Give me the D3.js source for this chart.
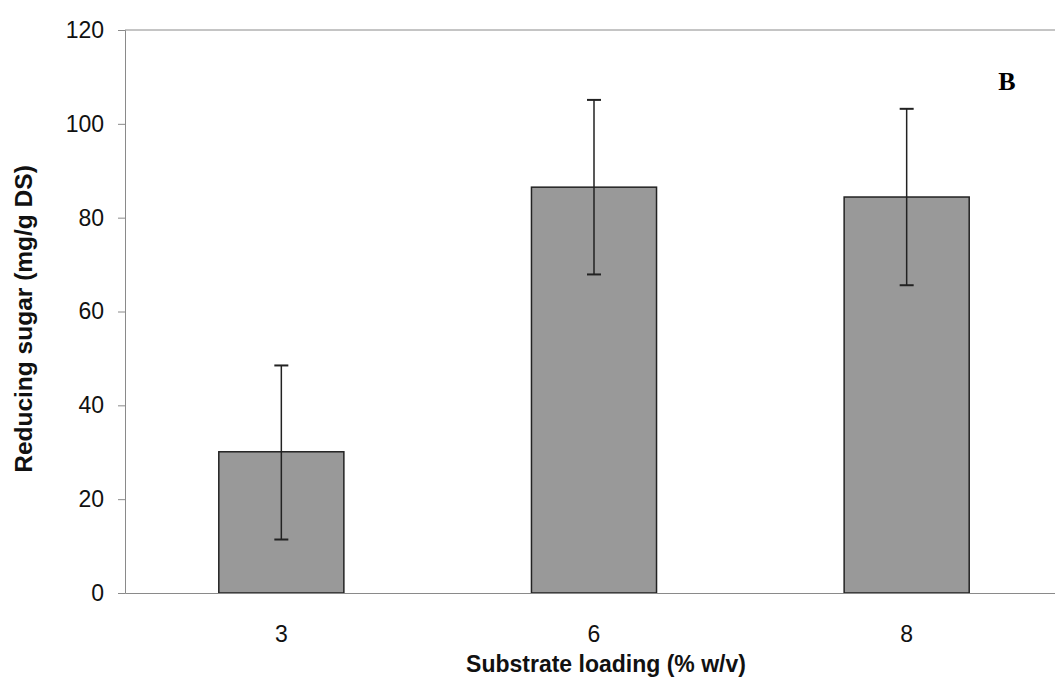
<!DOCTYPE html>
<html>
<head>
<meta charset="utf-8">
<script src="https://cdn.jsdelivr.net/npm/d3@7"></script>
<style>
  body { margin: 0; background: #fff; }
  svg { display: block; }
  .tick text { font-family: "Liberation Sans", Arial, sans-serif; font-size: 23px; fill: #111; }
  .axis-title { font-family: "Liberation Sans", Arial, sans-serif; font-weight: bold; fill: #111; }
</style>
</head>
<body>
<div id="chart"></div>
<script>
// data
var loadings = ["3", "6", "8"];
var sugar = [30.1, 86.5, 84.4];
var errLow = [11.4, 67.9, 65.6];
var errHigh = [48.5, 105.1, 103.2];
var yTicks = [0, 20, 40, 60, 80, 100, 120];

var margin = {top: 30, right: -8, bottom: 87, left: 125},
    width = 1055 - margin.left - margin.right,
    height = 680 - margin.top - margin.bottom;

var x = d3.scaleBand()
          .domain(loadings)
          .range([0, width])
          .paddingInner(0.6)
          .paddingOuter(0.3);
var y = d3.scaleLinear()
          .domain([0, 120])
          .range([height, 0]);

var svg = d3.select("#chart").append("svg")
    .attr("width", 1055)
    .attr("height", 680)
  .append("g")
    .attr("transform", "translate(" + margin.left + "," + margin.top + ")");

var data = loadings.map(function(d, i) {
  return {label: d, value: sugar[i], lo: errLow[i], hi: errHigh[i]};
});

// top frame line
svg.append("line")
    .attr("x1", 0).attr("x2", width)
    .attr("y1", 0).attr("y2", 0)
    .attr("stroke", "#8a8a8a").attr("stroke-width", 1);

// bars
svg.selectAll(".bar")
    .data(data)
  .enter().append("rect")
    .attr("class", "bar")
    .attr("x", function(d) { return x(d.label); })
    .attr("width", x.bandwidth())
    .attr("y", function(d) { return y(d.value); })
    .attr("height", function(d) { return height - y(d.value); })
    .attr("fill", "#999999")
    .attr("stroke", "#222")
    .attr("stroke-width", 1.5);

// error bars
var err = svg.selectAll(".err")
    .data(data)
  .enter().append("g")
    .attr("class", "err")
    .attr("transform", function(d) { return "translate(" + (x(d.label) + x.bandwidth() / 2) + ",0)"; });

err.append("line")
    .attr("y1", function(d) { return y(d.lo); })
    .attr("y2", function(d) { return y(d.hi); })
    .attr("stroke", "#222").attr("stroke-width", 1.5);
err.append("line")
    .attr("x1", -7).attr("x2", 7)
    .attr("y1", function(d) { return y(d.hi); })
    .attr("y2", function(d) { return y(d.hi); })
    .attr("stroke", "#222").attr("stroke-width", 2);
err.append("line")
    .attr("x1", -7).attr("x2", 7)
    .attr("y1", function(d) { return y(d.lo); })
    .attr("y2", function(d) { return y(d.lo); })
    .attr("stroke", "#222").attr("stroke-width", 2);

// x axis
var xAxis = svg.append("g")
    .attr("transform", "translate(0," + height + ")")
    .call(d3.axisBottom(x).tickSize(0).tickPadding(33));
xAxis.select(".domain").attr("stroke", "#8a8a8a");

// y axis
var yAxis = svg.append("g")
    .call(d3.axisLeft(y).tickValues(yTicks).tickSize(7).tickPadding(14));
yAxis.select(".domain").attr("stroke", "#8a8a8a");
yAxis.selectAll(".tick line").attr("stroke", "#8a8a8a");

// axis titles
svg.append("text")
    .attr("class", "axis-title")
    .attr("x", 481)
    .attr("y", height + 79)
    .style("font-size", "23px")
    .style("text-anchor", "middle")
    .text("Substrate loading (% w/v)");

svg.append("text")
    .attr("class", "axis-title")
    .attr("transform", "rotate(-90)")
    .attr("x", -(319 - margin.top))
    .attr("y", -93)
    .style("font-size", "24.5px")
    .style("text-anchor", "middle")
    .text("Reducing sugar (mg/g DS)");

// panel letter
svg.append("text")
    .attr("x", 882)
    .attr("y", 60)
    .style("font-family", "'Liberation Serif', 'Times New Roman', serif")
    .style("font-weight", "bold")
    .style("font-size", "26px")
    .style("text-anchor", "middle")
    .text("B");
</script>
</body>
</html>
